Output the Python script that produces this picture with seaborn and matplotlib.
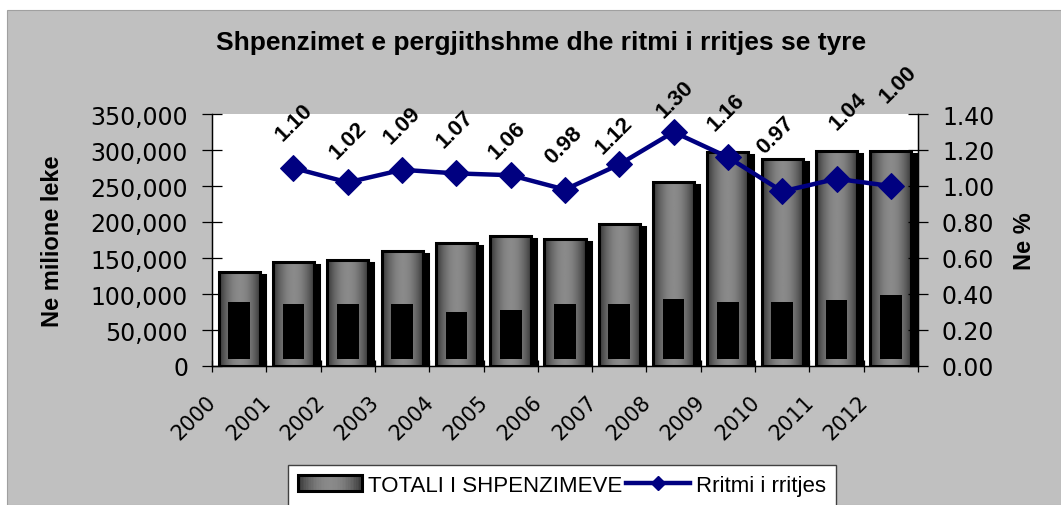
import numpy as np
import pandas as pd
import matplotlib
matplotlib.use("Agg")
import matplotlib.pyplot as plt
import seaborn as sns
from matplotlib.patches import Rectangle, Patch
from matplotlib.lines import Line2D
from matplotlib.legend_handler import HandlerBase
from matplotlib.transforms import ScaledTranslation
from matplotlib.ticker import FuncFormatter, FixedLocator

# ---------------- data ----------------
years = [str(y) for y in range(2000, 2013)]
total_spending = [131000, 144000, 147000, 160000, 171000, 181000, 177000,
                  197000, 256000, 297000, 288000, 299000, 299000]
inner_values = [89000, 86000, 86000, 86000, 75000, 78000, 86000,
                86000, 93000, 89000, 89000, 91000, 98000]
growth_rate = [np.nan, 1.10, 1.02, 1.09, 1.07, 1.06, 0.98,
               1.12, 1.30, 1.16, 0.97, 1.04, 1.00]
left_ticks = [0, 50000, 100000, 150000, 200000, 250000, 300000, 350000]
right_ticks = [0.0, 0.2, 0.4, 0.6, 0.8, 1.0, 1.2, 1.4]
title = "Shpenzimet e pergjithshme dhe ritmi i rritjes se tyre"
bar_label = "TOTALI I SHPENZIMEVE"
line_label = "Rritmi i rritjes"

# label placement (style, pixels)
label_offsets = [None, (1, 46), (0, 43), (0, 45), (-1, 45), (-4, 35), (-1, 45),
                 (-5, 30), (1, 33), (-2, 45), (-7, 57), (12, 68), (7, 102)]

W, H, DPI = 1061, 506, 100
NAVY = "#000080"


def grad_fn(t):
    return 0.18 + 0.36 * np.sin(np.pi * t) ** 0.8


fig = plt.figure(figsize=(W / DPI, H / DPI), dpi=DPI)
fig.patch.set_facecolor("white")
fig.patches.append(Rectangle((7 / W, 0), 1 - 7 / W, 1 - 11 / H, transform=fig.transFigure,
                             facecolor="#C0C0C0", edgecolor="#A0A0A0", lw=0.8, zorder=-10))

ax = fig.add_axes([212 / W, 1 - 367 / H, 706 / W, 252 / H])
ax.set_facecolor("white")
dpi_trans = fig.dpi_scale_trans

sns.barplot(x=years, y=total_spending, ax=ax, color="#808080", width=0.755,
            saturation=1, edgecolor="black", linewidth=2.2, zorder=3)

grad = grad_fn(np.linspace(0, 1, 64))[None, :]
bars = list(ax.patches)
for p in bars:
    x0, w, h = p.get_x(), p.get_width(), p.get_height()
    sh = Rectangle((x0, 0), w, h, facecolor="black", edgecolor="black", lw=2.2, zorder=2,
                   transform=ax.transData + ScaledTranslation(5 / DPI, -3 / DPI, dpi_trans))
    ax.add_patch(sh)
    im = ax.imshow(grad, extent=(x0, x0 + w, 0, h), aspect="auto", cmap="gray",
                   vmin=0, vmax=1, zorder=3, interpolation="bilinear")
    im.set_clip_path(p)
    p.set_facecolor("none")
    p.set_zorder(4)

n_before = len(ax.patches)
sns.barplot(x=years, y=inner_values, ax=ax, color="black", width=0.40,
            saturation=1, linewidth=0, zorder=5)

# axes limits
ax.set_xlim(-0.5, len(years) - 0.5)
ax.set_ylim(0, 350000)

# raise the base of the inner (dark) bars by ~7 px, keeping their tops (3-D look)
lift = (ax.transData.inverted().transform((0, 7)) - ax.transData.inverted().transform((0, 0)))[1]
for p in list(ax.patches)[n_before:]:
    top = p.get_y() + p.get_height()
    p.set_y(lift)
    p.set_height(top - lift)

ax2 = ax.twinx()
df = pd.DataFrame({"pos": np.arange(len(years)), "rate": growth_rate}).dropna()
sns.lineplot(data=df, x="pos", y="rate", ax=ax2, color=NAVY, linewidth=3.2,
             marker="D", markersize=13, markeredgecolor=NAVY, zorder=6)

for i, v in enumerate(growth_rate):
    if np.isnan(v):
        continue
    ax2.annotate(f"{v:.2f}", xy=(i, v), xytext=label_offsets[i], textcoords="offset pixels",
                 ha="center", va="center", rotation=45, fontsize=16, fontweight="bold",
                 family="Liberation Sans", annotation_clip=False)

ax.set_xlim(-0.5, len(years) - 0.5)
ax.set_ylim(0, 350000)
ax2.set_ylim(0, 1.4)
ax.set_xlabel("")
ax2.set_xlabel("")

ax.set_yticks(left_ticks)
ax.yaxis.set_major_formatter(FuncFormatter(lambda v, p: f"{v:,.0f}"))
ax2.set_yticks(right_ticks)
ax2.yaxis.set_major_formatter(FuncFormatter(lambda v, p: f"{v:.2f}"))
for a in (ax, ax2):
    a.tick_params(axis="y", direction="inout", length=13.7, width=0.9, pad=10.4,
                  labelsize=17, color="black")
    for lab in a.get_yticklabels():
        lab.set_family("DejaVu Sans")
    a.spines["top"].set_visible(False)
    for s in ("left", "right", "bottom"):
        a.spines[s].set_color("black")
        a.spines[s].set_linewidth(0.9)

ax.set_xticks(range(len(years)))
ax.set_xticklabels(years, rotation=45, ha="right", rotation_mode="anchor",
                   fontsize=15, family="DejaVu Sans")
ax.tick_params(axis="x", which="major", length=0, pad=18)
ax.xaxis.set_minor_locator(FixedLocator(np.arange(-0.5, len(years), 1.0)))
ax.tick_params(axis="x", which="minor", direction="inout", length=8.6, width=0.9, color="black")
for lab in ax.get_xticklabels():
    lab.set_transform(lab.get_transform() + ScaledTranslation(-33 / DPI, 0, dpi_trans))

ax.set_ylabel("Ne milione leke", fontsize=17, fontweight="bold", family="Liberation Sans")
ax.yaxis.set_label_coords(-0.210, 0.5)
ax2.set_ylabel("Ne %", fontsize=17, fontweight="bold", family="Liberation Sans", rotation=90)
ax2.yaxis.set_label_coords(1.134, 0.5)

fig.text(541 / W, 1 - 43 / H, title, fontsize=19, fontweight="bold",
         ha="center", va="center", family="Liberation Sans")


class GradientBarHandler(HandlerBase):
    def create_artists(self, legend, orig_handle, xdescent, ydescent, width, height,
                       fontsize, trans):
        arts = []
        n = 40
        for k in range(n):
            g = float(grad_fn((k + 0.5) / n))
            arts.append(Rectangle((-xdescent + width * k / n, -ydescent), width / n + 0.3, height,
                                  facecolor=(g, g, g), edgecolor="none", transform=trans))
        arts.append(Rectangle((-xdescent, -ydescent), width, height, fill=False,
                              edgecolor="black", lw=2.2, transform=trans))
        return arts


bar_proxy = Patch(facecolor="#808080", edgecolor="black")
line_proxy = Line2D([], [], color=NAVY, lw=3.2, marker="D", markersize=7,
                    markeredgecolor=NAVY)
leg = fig.legend(handles=[bar_proxy, line_proxy], labels=[bar_label, line_label],
                 handler_map={bar_proxy: GradientBarHandler()},
                 loc="upper left", bbox_to_anchor=(288 / W, 1 - 466 / H), ncol=2,
                 frameon=True, fancybox=False, edgecolor="#404040", facecolor="white",
                 framealpha=1, prop={"family": "Liberation Sans", "size": 16},
                 handlelength=2.9, handletextpad=0.25, columnspacing=0.15,
                 borderpad=0.45, borderaxespad=0)
leg.get_frame().set_linewidth(1.0)

fig.savefig("out.png", dpi=DPI, facecolor=fig.get_facecolor())
